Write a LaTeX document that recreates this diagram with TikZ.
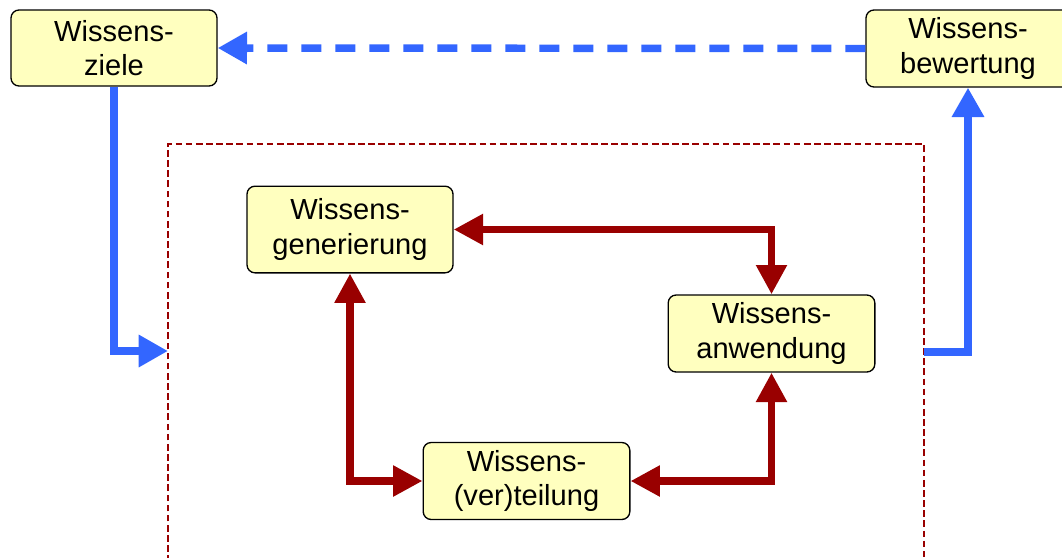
\documentclass[tikz,border=0pt]{standalone}
\usepackage{fontspec}
\setmainfont{Liberation Sans}
\usetikzlibrary{arrows.meta}
\definecolor{boxfill}{HTML}{FFFFBF}
\definecolor{myblue}{HTML}{3366FF}
\definecolor{myred}{HTML}{990000}
\tikzset{
  kbox/.style={draw=black, line width=1pt, fill=boxfill, rounded corners=6pt,
    align=center, inner sep=0pt, font=\fontsize{21.8}{26}\selectfont},
  bluearrow/.style={draw=myblue, line width=5.6pt, -{Triangle[length=22pt,width=23pt]}},
  bluedash/.style={bluearrow, dash pattern=on 15pt off 10.5pt},
  redarrow/.style={draw=myred, line width=5.4pt,
    {Triangle[length=22pt,width=22pt]}-{Triangle[length=22pt,width=22pt]}},
  frame/.style={draw=myred, line width=1.1pt, dash pattern=on 5pt off 2.6pt}
}
\begin{document}
\begin{tikzpicture}[x=0.75pt,y=-0.75pt]
\useasboundingbox (0,0) rectangle (1062,557);
\node[kbox, minimum width=154.5pt, minimum height=57pt] (ziele) at (114,48) {Wissens-\\ziele};
\node[kbox, minimum width=153pt, minimum height=57.75pt] (bew) at (968,48.5) {Wissens-\\bewertung};
\node[kbox, minimum width=154.5pt, minimum height=65pt] (gen) at (350,229.5) {Wissens-\\generierung};
\node[kbox, minimum width=155pt, minimum height=57.75pt] (anw) at (771.5,333.5) {Wissens-\\anwendung};
\node[kbox, minimum width=155pt, minimum height=57.75pt] (vert) at (526.5,481) {Wissens-\\(ver)teilung};
\coordinate (frameL) at (168,351);
\coordinate (frameR) at (924,352);
\draw[frame] (168,562) -- (168,144) -- (924,144) -- (924,562);
\draw[bluearrow] (ziele.south) |- (frameL);
\draw[bluearrow] (frameR) -| (bew.south);
\draw[bluedash] (bew.west) -- (ziele.east);
\draw[redarrow] (gen.east) -| (anw.north);
\draw[redarrow] (gen.south) |- (vert.west);
\draw[redarrow] (vert.east) -| (anw.south);
\end{tikzpicture}
\end{document}
